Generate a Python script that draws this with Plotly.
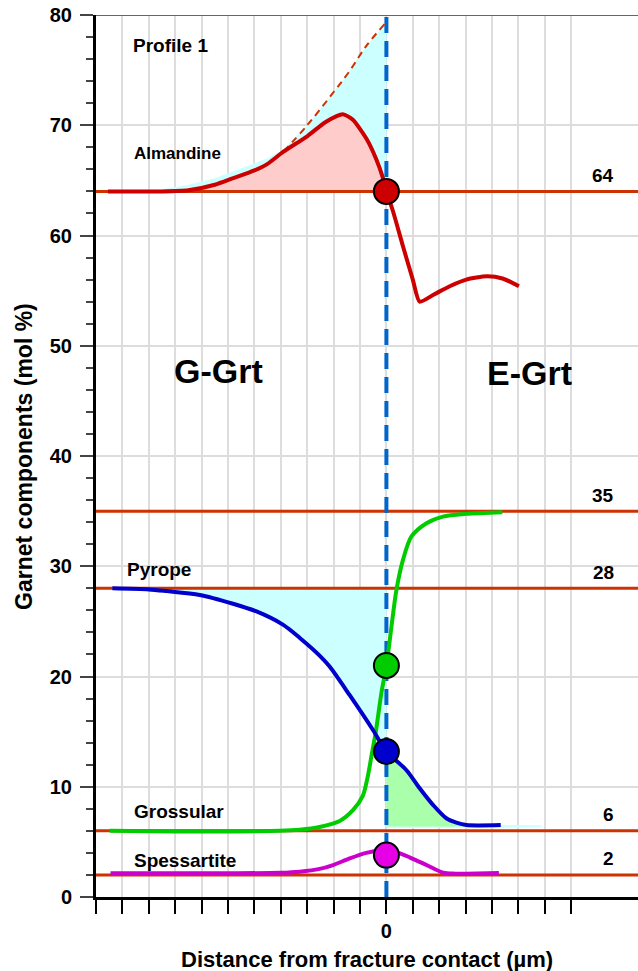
import plotly.graph_objects as go

# ---------------- data ----------------
# horizontal reference compositions (mol %)
ref_values = [64, 35, 28, 6, 2]

# Almandine profile
alm_x = [-10.55, -9.5, -8.5, -7.5, -6.5, -5.8, -5.0, -4.5, -3.9, -3.0, -2.3, -1.65,
         -1.27, -0.76, -0.38, -0.13, 0.0, 0.25, 0.63, 1.0, 1.26, 1.8, 2.4, 3.03, 3.8, 4.4, 5.02]
alm_y = [64.0, 64.0, 64.0, 64.1, 64.6, 65.2, 65.9, 66.5, 67.6, 69.0, 70.3, 71.0,
         70.5, 68.8, 66.9, 65.2, 64.0, 62.2, 59.0, 56.0, 54.0, 54.65, 55.4, 56.0, 56.3, 56.1, 55.4]

# Almandine extrapolated (dashed) trend
alm_trend_x = [-3.9, -3.0, -2.0, -1.4, -0.76, -0.06]
alm_trend_y = [67.6, 70.0, 73.0, 74.9, 77.2, 79.2]

# envelope of the shaded almandine deficit
alm_env_x = [-9.5, -8.5, -7.5, -6.5, -5.5, -4.5, -3.9, -3.0, -2.0, -1.4, -0.76, -0.06, 0.0]
alm_env_y = [64.0, 64.2, 64.6, 65.2, 66.1, 67.0, 67.8, 70.0, 73.0, 74.9, 77.2, 79.2, 79.3]

# Pyrope profile
pyr_x = [-10.38, -9.0, -8.33, -7.07, -5.81, -4.92, -3.92, -3.28, -2.53, -2.15, -1.39,
         -0.51, 0.0, 0.76, 1.26, 1.77, 2.27, 2.65, 3.03, 4.33]
pyr_y = [28.0, 27.9, 27.75, 27.4, 26.6, 25.9, 24.7, 23.5, 21.9, 20.9, 18.3,
         15.15, 13.2, 11.5, 9.86, 8.34, 7.14, 6.75, 6.53, 6.53]

# Grossular profile
gro_x = [-10.48, -8.0, -6.0, -4.04, -3.28, -2.53, -1.77, -1.26, -0.89, -0.70, -0.55, -0.40,
         -0.19, 0.0, 0.19, 0.38, 0.63, 0.95, 1.52, 2.14, 3.03, 4.39]
gro_y = [6.0, 5.95, 5.95, 6.0, 6.1, 6.35, 6.9, 7.9, 9.2, 11.0, 13.0, 15.0,
         18.5, 21.0, 24.5, 27.85, 30.6, 32.7, 33.9, 34.5, 34.75, 34.9]

# Spessartite profile
sps_x = [-10.45, -8.0, -6.0, -4.0, -3.28, -2.53, -2.02, -1.39, -0.76, -0.3, 0.0, 0.4,
         0.88, 1.52, 2.15, 2.6, 3.03, 4.26]
sps_y = [2.15, 2.15, 2.15, 2.2, 2.3, 2.55, 2.9, 3.5, 4.0, 4.2, 4.2, 4.05,
         3.6, 2.9, 2.2, 2.12, 2.12, 2.18]

# compositions at the fracture contact
contact_y = [64.0, 21.0, 13.2, 3.8]
contact_colors = ["#cc0000", "#00cc00", "#0000cc", "#e600e6"]

# thin band under the E-Grt pyrope tail
tail_x = [0.0, 5.87, 5.87, 0.0]
tail_y = [6.25, 6.3, 6.5, 6.6]
green_floor = 6.4

x_ticks = list(range(-11, 8))
y_ticks = list(range(0, 81, 10))
X_MIN, X_MAX = -11, 9.53

FONT = "Liberation Sans, Arial, sans-serif"
CYAN = "#ccffff"
PINK = "#ffcccc"
GREEN_FILL = "#aaffaa"
REF_RED = "#cc3300"

fig = go.Figure()


def poly(xs, ys, color):
    fig.add_trace(go.Scatter(x=xs, y=ys, mode="lines", fill="toself",
                             fillcolor=color, line=dict(width=0),
                             hoverinfo="skip", showlegend=False))


# cyan deficit above almandine
base_alm = ref_values[0]
poly(alm_env_x + [alm_env_x[-1], alm_env_x[0]],
     alm_env_y + [base_alm, base_alm], CYAN)

# pink area under almandine (G-Grt side)
left_alm = [(x, y) for x, y in zip(alm_x, alm_y) if x <= 0]
poly([p[0] for p in left_alm] + [0.0, left_alm[0][0]],
     [p[1] for p in left_alm] + [base_alm, base_alm], PINK)

# cyan area between pyrope plateau and the pyrope profile
base_pyr = ref_values[2]
left_pyr = [(x, y) for x, y in zip(pyr_x, pyr_y) if -9.0 <= x <= 0]
poly([left_pyr[0][0], 0.0] + [p[0] for p in reversed(left_pyr)],
     [base_pyr, base_pyr] + [p[1] for p in reversed(left_pyr)], CYAN)

# thin cyan tail and green area (E-Grt side)
poly(tail_x, tail_y, CYAN)
right_pyr = [(x, y) for x, y in zip(pyr_x, pyr_y) if 0 <= x <= 3.03]
poly([p[0] for p in right_pyr] + [right_pyr[-1][0], 0.0],
     [p[1] for p in right_pyr] + [green_floor, green_floor], GREEN_FILL)

# horizontal reference lines
hx, hy = [], []
for v in ref_values:
    hx += [X_MIN, X_MAX, None]
    hy += [v, v, None]
fig.add_trace(go.Scatter(x=hx, y=hy, mode="lines",
                         line=dict(color=REF_RED, width=3),
                         hoverinfo="skip", showlegend=False))

# fracture contact
fig.add_trace(go.Scatter(x=[0, 0], y=[0, 80], mode="lines",
                         line=dict(color="#0066cc", width=4, dash="16px,8px"),
                         hoverinfo="skip", showlegend=False))

# almandine dashed trend
fig.add_trace(go.Scatter(x=alm_trend_x, y=alm_trend_y, mode="lines",
                         line=dict(color=REF_RED, width=2, dash="7px,5px", shape="spline"),
                         hoverinfo="skip", showlegend=False))

# profiles
for xs, ys, col, sm in [(alm_x, alm_y, "#cc0000", 0.6),
                        (gro_x, gro_y, "#00cc00", 0.8),
                        (pyr_x, pyr_y, "#0000cc", 0.8),
                        (sps_x, sps_y, "#cc00cc", 0.8)]:
    fig.add_trace(go.Scatter(x=xs, y=ys, mode="lines",
                             line=dict(color=col, width=4, shape="spline", smoothing=sm),
                             hoverinfo="skip", showlegend=False))

# contact compositions
fig.add_trace(go.Scatter(x=[0] * len(contact_y), y=contact_y, mode="markers",
                         marker=dict(size=25, color=contact_colors,
                                     line=dict(color="black", width=2)),
                         hoverinfo="skip", showlegend=False))

# ---------------- annotations ----------------
def label(text, x, y, size, anchor="left", yshift=0):
    fig.add_annotation(x=x, y=y, text=f"<b>{text}</b>", showarrow=False,
                       xanchor=anchor, yanchor="middle", yshift=yshift,
                       font=dict(family=FONT, size=size, color="black"))


label("Profile 1", -9.66, 77.2, 19)
label("Almandine", -9.64, 67.4, 17)
label("Pyrope", -9.92, 29.7, 19)
label("Grossular", -9.64, 7.8, 19)
label("Spessartite", -9.64, 3.3, 19)
label("G-Grt", -8.12, 47.7, 34)
label("E-Grt", 3.72, 47.5, 34)
for v in ref_values:
    label(str(v), 8.69, v, 19, anchor="right", yshift=16)

fig.add_annotation(xref="paper", yref="paper", x=-0.133, y=0.5,
                   text="<b>Garnet components (mol %)</b>", textangle=-90,
                   showarrow=False, xanchor="center", yanchor="middle",
                   font=dict(family=FONT, size=23, color="black"))
fig.add_annotation(xref="paper", yref="paper", x=0.5, y=-0.0703,
                   text="<b>Distance from fracture contact (µm)</b>",
                   showarrow=False, xanchor="center", yanchor="middle",
                   font=dict(family=FONT, size=22, color="black"))

# top frame line
fig.add_shape(type="line", xref="paper", yref="y", x0=0, x1=1, y0=80, y1=80,
              line=dict(color="#666666", width=2))

fig.update_layout(
    width=638, height=971,
    margin=dict(l=96, r=0, t=15, b=74),
    paper_bgcolor="white", plot_bgcolor="white",
    showlegend=False,
    font=dict(family=FONT, color="black"),
)
fig.update_xaxes(
    range=[X_MIN, X_MAX], tickvals=x_ticks,
    ticktext=["0" if t == 0 else "" for t in x_ticks],
    ticks="outside", ticklen=14, tickwidth=2, tickcolor="black",
    tickfont=dict(family=FONT, size=20, color="black", weight="bold"),
    showgrid=True, gridcolor="#dddddd", gridwidth=2,
    showline=True, linecolor="black", linewidth=3, zeroline=False,
)
fig.update_yaxes(
    range=[0, 80], tickvals=y_ticks,
    ticks="outside", ticklen=13, tickwidth=2, tickcolor="#444444",
    ticklabelstandoff=4,
    tickfont=dict(family=FONT, size=20, color="black", weight="bold"),
    minor=dict(ticks="outside", ticklen=7, tickwidth=2, tickcolor="#444444",
               tick0=0, dtick=2, showgrid=False),
    showgrid=True, gridcolor="#dddddd", gridwidth=2,
    showline=True, linecolor="black", linewidth=3, zeroline=False,
)

fig.write_html("out.html")
